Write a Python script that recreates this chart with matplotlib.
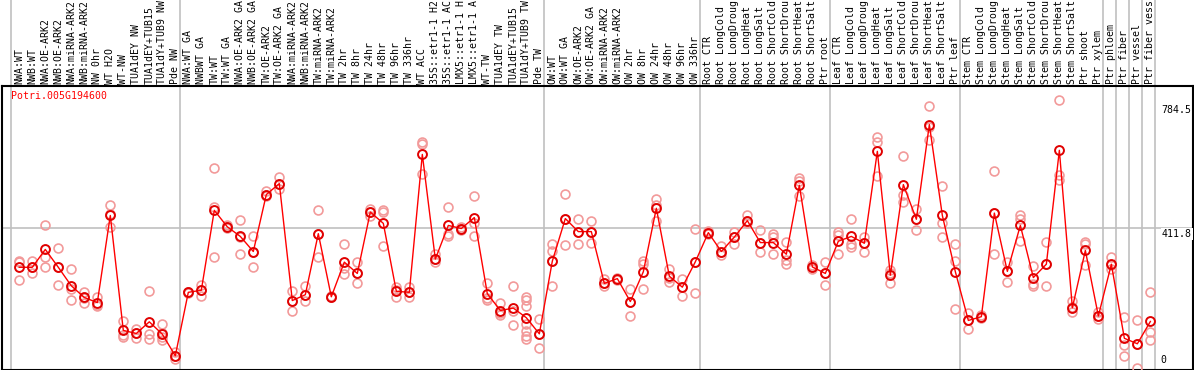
import matplotlib
matplotlib.use("Agg")
import matplotlib.pyplot as plt

# sample labels (shown truncated as in the original)
labels = [
    "NWA:WT", "NWB:WT", "NWA:OE-ARK2", "NWB:OE-ARK2", "NWA:miRNA-ARK2", "NWB:miRNA-ARK2",
    "NW 0hr", "WT H2O", "WT-NW", "TUA1dEY NW", "TUA1dEY+TUB15", "TUA1dY+TUB9 NW", "Pde NW",
    "NWA:WT GA", "NWBWT GA", "TW:WT", "TW:WT GA", "NWA:OE-ARK2 GA", "NWB:OE-ARK2 GA",
    "TW:OE-ARK2", "TW:OE-ARK2 GA", "NWA:miRNA-ARK2", "NWB:miRNA-ARK2", "TW:miRNA-ARK2",
    "TW:miRNA-ARK2", "TW 2hr", "TW 8hr", "TW 24hr", "TW 48hr", "TW 96hr", "TW 336hr",
    "WT ACC", "35S::etr1-1 H2", "35S::etr1-1 AC", "LMX5::etr1-1 H", "LMX5::etr1-1 A",
    "WT-TW", "TUA1dEY TW", "TUA1dEY+TUB15", "TUA1dY+TUB9 TW", "Pde TW",
    "OW:WT", "OW:WT GA", "OW:OE-ARK2", "OW:OE-ARK2 GA", "OW:miRNA-ARK2", "OW:miRNA-ARK2",
    "OW 2hr", "OW 8hr", "OW 24hr", "OW 48hr", "OW 96hr", "OW 336hr",
    "Root CTR", "Root LongCold", "Root LongDroug", "Root LongHeat", "Root LongSalt",
    "Root ShortCold", "Root ShortDrou", "Root ShortHeat", "Root ShortSalt", "Ptr root",
    "Leaf CTR", "Leaf LongCold", "Leaf LongDroug", "Leaf LongHeat", "Leaf LongSalt",
    "Leaf ShortCold", "Leaf ShortDrou", "Leaf ShortHeat", "Leaf ShortSalt", "Ptr leaf",
    "Stem CTR", "Stem LongCold", "Stem LongDroug", "Stem LongHeat", "Stem LongSalt",
    "Stem ShortCold", "Stem ShortDrou", "Stem ShortHeat", "Stem ShortSalt", "Ptr shoot",
    "Ptr xylem", "Ptr phloem", "Ptr fiber", "Ptr vessel", "Ptr fiber vess",
]

# number of samples in each separated group
group_sizes = [13, 28, 12, 10, 10, 11, 1, 1, 1, 1]

means = [
    298, 298, 350, 298, 244, 210, 195, 449, 114, 105, 139, 103, 40,
    225, 231, 464, 416, 388, 344, 510, 542, 201, 218, 396, 212, 313, 280, 459, 426,
    228, 225, 627, 322, 420, 411, 443, 221, 172, 179, 151, 104,
    316, 440, 402, 402, 251, 265, 198, 285, 470, 272, 240, 314,
    399, 344, 386, 434, 370, 370, 336, 537, 299, 280,
    374, 388, 368, 636, 275, 539, 438, 714, 449, 285,
    143, 154, 456, 286, 420, 268, 307, 639, 180, 347, 156,
    307, 91, 75, 140,
]

replicates = [
    [316, 312, 262], [316, 298, 281], [422, 329, 298], [353, 298, 245], [294, 236, 202],
    [226, 209, 195], [211, 187, 184], [479, 452, 416], [140, 101, 95], [118, 106, 91],
    [228, 104, 90], [133, 105, 95, 87], [51, 39, 30],
    [226, 225, 224], [247, 231, 214], [586, 474, 329], [420, 416, 412], [437, 387, 338],
    [388, 344, 298], [520, 510, 505], [561, 542, 527], [228, 201, 172], [242, 218, 199],
    [464, 396, 327], [214, 212, 210], [365, 296, 278], [313, 280, 253], [468, 459, 447],
    [464, 458, 359], [240, 233, 211], [240, 225, 211], [664, 657, 569], [338, 322, 313],
    [475, 394, 388], [415, 411, 408], [507, 427, 390], [253, 207, 204], [194, 165, 158],
    [242, 172, 131], [211, 202, 184, 134, 112, 99, 90], [146, 104, 63],
    [367, 346, 316, 242], [513, 440, 364], [440, 402, 367], [434, 402, 370], [263, 251, 242],
    [268, 265, 262], [236, 198, 157], [316, 308, 235], [497, 480, 433], [292, 268, 255],
    [263, 240, 215], [411, 314, 222],
    [405, 399, 394], [360, 344, 335], [401, 386, 367], [449, 434, 426], [406, 370, 343],
    [394, 386, 338], [372, 318, 309], [559, 550, 505], [305, 298, 293], [312, 280, 247],
    [401, 391, 336], [438, 365, 357], [386, 368, 343], [679, 664, 565], [289, 282, 252],
    [622, 510, 487], [469, 438, 408], [768, 708, 669], [535, 426, 385], [367, 317, 175],
    [165, 143, 119], [158, 154, 150], [578, 456, 338], [314, 286, 255], [451, 440, 374],
    [301, 250, 242], [373, 307, 242], [784.5, 567, 552], [200, 182, 167], [372, 365, 305],
    [167, 157, 148], [328, 306, 294], [153, 70, 38], [145, 75, 4], [227, 109, 87],
]

gene = "Potri.005G194600"
y_max = 784.5
y_mid = 411.8

mono = "DejaVu Sans Mono"
fs = 7.1

fig = plt.figure(figsize=(11.94, 3.70), dpi=100)
W, H = 1194, 370
ax = fig.add_axes([1.5 / W, 0.5 / H, 1191.5 / W, 283.5 / H])

x = list(range(len(means)))

# replicate points
for i, reps in enumerate(replicates):
    ax.plot([i] * len(reps), reps, linestyle="none", marker="o", ms=6.4,
            mfc="none", mec="#f29a9a", mew=1.2, zorder=3)

# mean line + points
ax.plot(x, means, color="red", lw=1, zorder=4)
ax.plot(x, means, linestyle="none", marker="o", ms=6.4, mfc="none",
        mec="#e00000", mew=1.4, zorder=5)

ax.set_xlim(-1.369, 90.28)
ax.set_ylim(0, 826.5)
ax.set_xticks([])
ax.set_yticks([])
for s in ax.spines.values():
    s.set_color("black")
    s.set_linewidth(1.5)

# group separators, running through the header as well
top_frac = (H - 0.5) / 283.5
seps = [-0.62]
pos = 0
for g in group_sizes:
    pos += g
    seps.append(pos - 1 + 0.38)
for sx in seps:
    ax.axvline(sx, ymin=0, ymax=top_frac, color="#c0c0c0", lw=1.2,
               clip_on=False, zorder=1)

ax.axhline(y_mid, color="#c0c0c0", lw=1.2, zorder=1)

# column labels
for i, lab in enumerate(labels):
    ax.annotate(lab, xy=(i, 1), xycoords=("data", "axes fraction"),
                xytext=(0, 1.8), textcoords="offset points",
                rotation=90, ha="center", va="bottom",
                fontsize=fs, family=mono, color="black", annotation_clip=False)

# gene name
ax.annotate(gene, xy=(0, 1), xycoords="axes fraction", xytext=(6.5, -3.5),
            textcoords="offset points", ha="left", va="top",
            fontsize=fs, family=mono, color="red")

# value labels on the right
ax.annotate(f"{y_max}", xy=(1, y_max), xycoords=("axes fraction", "data"),
            xytext=(-1, -3.5), textcoords="offset points", ha="right", va="top",
            fontsize=fs, family=mono, color="black")
ax.annotate(f"{y_mid}", xy=(1, y_mid), xycoords=("axes fraction", "data"),
            xytext=(-1, -0.5), textcoords="offset points", ha="right", va="top",
            fontsize=fs, family=mono, color="black",
            bbox=dict(facecolor="white", edgecolor="none", pad=0.8))
ax.annotate("0", xy=(1, 0), xycoords=("axes fraction", "data"),
            xytext=(-19, 3), textcoords="offset points", ha="right", va="bottom",
            fontsize=fs, family=mono, color="black")

fig.savefig("out.png", dpi=100)
